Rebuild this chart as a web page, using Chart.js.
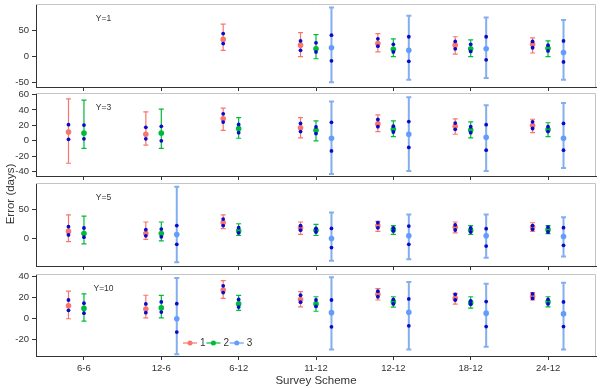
<!DOCTYPE html>
<html><head><meta charset="utf-8">
<script src="https://cdn.jsdelivr.net/npm/chart.js@4/dist/chart.umd.min.js"></script>
<style>
html,body{margin:0;padding:0;background:#fff;}
#wrap{position:relative;width:600px;height:388px;overflow:hidden;font-family:"Liberation Sans",Arial,sans-serif;}
#wrap canvas{position:absolute;left:0;}
#ylab{position:absolute;left:-30px;top:187px;width:80px;height:14px;line-height:14px;text-align:center;transform:rotate(-90deg);transform-origin:40px 7px;font-size:11.5px;font-weight:400;color:#333;white-space:nowrap;}
</style></head><body>
<div id="wrap">
<canvas id="c0" width="600" height="91" style="top:0px"></canvas>
<canvas id="c1" width="600" height="91" style="top:89px"></canvas>
<canvas id="c2" width="600" height="91" style="top:179px"></canvas>
<canvas id="c3" width="600" height="118" style="top:270px"></canvas>
<div id="ylab">Error (days)</div>
</div>
<script>
const categories = ['6-6','12-6','6-12','11-12','12-12','18-12','24-12'];
const seriesLabels = ['1','2','3'];
const panelLabels = ['Y=1','Y=3','Y=5','Y=10'];
const xAxisTitle = 'Survey Scheme';

// tick labels of each panel's y axis
const y1Ticks = [-50, 0, 50];
const y3Ticks = [-40, -20, 0, 20, 40, 60];
const y5Ticks = [0, 50];
const y10Ticks = [-20, 0, 20, 40];

// ---- Y=1 ---- (rows: series 1, 2, 3; columns: categories)
const y1Mean = [
  [null, null, 33, 22, 25, 22, 23.5],
  [null, null, null, 15, 14, 15, 16],
  [null, null, null, 17, 12, 15, 8]];
const y1Low = [
  [null, null, 12, 0, 9, 5, 7],
  [null, null, null, -4, 0, 0, 0],
  [null, null, null, -49, -44, -41, -44]];
const y1High = [
  [null, null, 62, 46, 44, 38, 36],
  [null, null, null, 42, 34, 32, 30],
  [null, null, null, 94, 78, 75, 70]];
const y1DotLo = [
  [null, null, 25, 12, 20, 15, 17],
  [null, null, null, 9, 9, 10, 11],
  [null, null, null, -8, -9, -6, -10]];
const y1DotHi = [
  [null, null, 44, 30, 34, 29, 29],
  [null, null, null, 26.5, 23.5, 23.5, 22],
  [null, null, null, 41, 38, 38, 30]];

// ---- Y=3 ----
const y3Mean = [
  [11.5, 8.6, 28.5, 17, 22, 19, 20],
  [10, 10, 15.8, 13.7, 15, 14, 14.5],
  [null, null, null, 3.4, 8.6, 4.7, 3.4]];
const y3Low = [
  [-29, -5.5, 13.7, 3.8, 12, 8.6, 10.6],
  [-9.7, -9.7, 3.4, 0, 5.6, 3.8, 5.6],
  [null, null, null, -43, -39, -39, -35]];
const y3High = [
  [54.5, 37.5, 42.5, 30, 33.7, 28.5, 28],
  [52.8, 41, 30, 25.8, 25.8, 24.7, 23.5],
  [null, null, null, 51, 56.5, 46, 49]];
const y3DotLo = [
  [2, 2.6, 24.3, 12, 18.4, 15, 16],
  [2.6, 0, 10.6, 9.4, 11.5, 10.6, 12],
  [null, null, null, -13, -8.5, -12, -12]];
const y3DotHi = [
  [21, 17.5, 35, 22.6, 27.7, 23, 24.7],
  [20.4, 18.8, 21.3, 18, 19, 18.3, 18.3],
  [null, null, null, 24, 25, 21, 22.6]];

// ---- Y=5 ----
const y5Mean = [
  [12, 8.3, 27, 18, 21.7, 19, 19.4],
  [8.3, 8.3, 12.8, 14, 15, 14, 15],
  [null, 6.7, null, 0, 4.4, 4.4, 3.3]];
const y5Low = [
  [-5.5, -1.7, 16.7, 7, 12, 9.4, 12],
  [-9.4, -4, 5, 5, 7, 6.7, 8.3],
  [null, -40.5, null, -38, -35.6, -33, -31]];
const y5High = [
  [40, 28, 40, 28, 29, 28, 26.7],
  [38, 28, 25, 24, 22, 22, 22],
  [null, 88, null, 44, 41, 41, 36]];
const y5DotLo = [
  [6, 4.4, 22, 14, 18, 14.4, 15.6],
  [2.2, 2.8, 9.4, 11, 12.8, 11, 11],
  [null, -10, null, -15.6, -10, -13, -11.7]];
const y5DotHi = [
  [20, 15, 33, 21.7, 26.7, 23, 22],
  [17.8, 16, 18.3, 17, 17.8, 17.8, 19.4],
  [null, 22, null, 17, 21, 16.7, 18.3]];

// ---- Y=10 ----
const y10Mean = [
  [12, 9, 27, 18, 23, 19, 21],
  [9.5, 10, 13.8, 13.8, 15.7, 15, 15.7],
  [null, -0.3, null, 5.5, 5.8, 5, 4.3]];
const y10Low = [
  [-0.3, 0.6, 19, 11, 17.5, 13.5, 17.5],
  [-2.5, 0.6, 7.7, 6.8, 10.8, 9.8, 11],
  [null, -34, null, -29.5, -29.5, -27, -29.5]];
const y10High = [
  [26, 22, 36, 25.5, 28.3, 23.7, 24.6],
  [23.4, 21.8, 21.8, 20.6, 20.6, 20.6, 20.6],
  [null, 38.5, null, 39, 34.5, 33, 34]];
const y10DotLo = [
  [7.7, 5.5, 24.6, 15.4, 20.6, 17.5, 19],
  [5, 6, 10.8, 11.4, 13.8, 13.5, 13.8],
  [null, -13, null, -8, -7, -7.7, -7.7]];
const y10DotHi = [
  [17.5, 13.8, 31, 22, 25.8, 22.8, 23.4],
  [14.5, 15.7, 18, 17.5, 18, 16.6, 18],
  [null, 14, null, 17.5, 18.5, 16, 15.7]];

// ---- styling ----
const seriesColors = ['#F8766D', '#00BA38', '#619CFF'];
const barColors = ['#F8766D', '#00BA38', 'rgba(110,160,235,0.85)'];
const barWidths = [1.2, 1.2, 2];
const seriesOffsets = [-0.2, 0, 0.2];
const dotColor = '#0a0acc';
const textColor = '#333';
const axisColor = '#333';
const FONT = '"Liberation Sans", Arial, sans-serif';
Chart.defaults.font.family = FONT;
Chart.defaults.color = textColor;

const panels = [
  {mean: y1Mean, low: y1Low, high: y1High, dlo: y1DotLo, dhi: y1DotHi, ticks: y1Ticks, min: -58, max: 100.6, bottom: false},
  {mean: y3Mean, low: y3Low, high: y3High, dlo: y3DotLo, dhi: y3DotHi, ticks: y3Ticks, min: -45.5, max: 62, bottom: false},
  {mean: y5Mean, low: y5Low, high: y5High, dlo: y5DotLo, dhi: y5DotHi, ticks: y5Ticks, min: -47, max: 94.5, bottom: false},
  {mean: y10Mean, low: y10Low, high: y10High, dlo: y10DotLo, dhi: y10DotHi, ticks: y10Ticks, min: -35.7, max: 42.2, bottom: true}
];

const errorBarPlugin = {
  id: 'errorBars',
  beforeDatasetsDraw(chart) {
    const ctx = chart.ctx, xs = chart.scales.x, ys = chart.scales.y;
    const ca = chart.chartArea;
    // light panel frame (top and right)
    ctx.save();
    ctx.strokeStyle = '#c4c4c4';
    ctx.lineWidth = 1;
    ctx.beginPath();
    ctx.moveTo(ca.left, Math.round(ca.top) + 0.5);
    ctx.lineTo(Math.round(ca.right) - 0.5, Math.round(ca.top) + 0.5);
    ctx.lineTo(Math.round(ca.right) - 0.5, ca.bottom);
    ctx.stroke();
    chart.data.datasets.forEach(ds => {
      if (!ds.errLow) return;
      ctx.strokeStyle = ds.barColor;
      ctx.lineWidth = ds.barWidth;
      ds.errLow.forEach((lo, i) => {
        const hi = ds.errHigh[i];
        if (lo == null || hi == null) return;
        const x = xs.getPixelForValue(i + ds.xOffset);
        const y1 = ys.getPixelForValue(lo), y2 = ys.getPixelForValue(hi);
        ctx.beginPath();
        ctx.moveTo(x, y1); ctx.lineTo(x, y2);
        ctx.moveTo(x - 2.5, y1); ctx.lineTo(x + 2.5, y1);
        ctx.moveTo(x - 2.5, y2); ctx.lineTo(x + 2.5, y2);
        ctx.stroke();
      });
    });
    ctx.restore();
  }
};

const panelLabelPlugin = {
  id: 'panelLabel',
  afterDraw(chart, args, opts) {
    const ctx = chart.ctx, ca = chart.chartArea;
    ctx.save();
    ctx.fillStyle = textColor;
    ctx.font = '8.5px ' + FONT;
    ctx.textAlign = 'center';
    ctx.textBaseline = 'middle';
    ctx.fillText(opts.text, ca.left + 67.5, ca.top + 15);
    if (opts.legend) {
      const y = ca.top + 69;
      let x = ca.left + 147;
      ctx.font = '10px ' + FONT;
      ctx.textAlign = 'left';
      seriesLabels.forEach((lab, s) => {
        ctx.strokeStyle = seriesColors[s];
        ctx.fillStyle = seriesColors[s];
        ctx.lineWidth = 1.2;
        ctx.beginPath(); ctx.moveTo(x, y); ctx.lineTo(x + 14, y); ctx.stroke();
        ctx.beginPath(); ctx.arc(x + 7, y, 2.5, 0, Math.PI * 2); ctx.fill();
        ctx.fillStyle = textColor;
        ctx.fillText(lab, x + 17, y + 0.5);
        x += 23.4;
      });
    }
    ctx.restore();
  }
};

function toPoints(arr, off) {
  const pts = [];
  arr.forEach((v, i) => { if (v != null) pts.push({x: i + off, y: v}); });
  return pts;
}

panels.forEach((p, k) => {
  const datasets = [];
  for (let s = 0; s < 3; s++) {
    datasets.push({
      label: '',
      data: toPoints(p.dlo[s], seriesOffsets[s]).concat(toPoints(p.dhi[s], seriesOffsets[s])),
      backgroundColor: dotColor, borderColor: dotColor,
      pointRadius: 1.9, borderWidth: 0, order: 0
    });
  }
  for (let s = 0; s < 3; s++) {
    datasets.push({
      label: seriesLabels[s],
      data: toPoints(p.mean[s], seriesOffsets[s]),
      backgroundColor: seriesColors[s], borderColor: seriesColors[s],
      pointRadius: 2.8, borderWidth: 0, order: 1,
      errLow: p.low[s], errHigh: p.high[s], xOffset: seriesOffsets[s],
      barColor: barColors[s], barWidth: barWidths[s]
    });
  }
  new Chart(document.getElementById('c' + k), {
    type: 'scatter',
    data: {datasets},
    plugins: [errorBarPlugin, panelLabelPlugin],
    options: {
      responsive: false,
      animation: false,
      events: [],
      layout: {padding: {top: 2, right: 2.5, left: 0, bottom: 0}},
      plugins: {
        legend: {display: false},
        tooltip: {enabled: false},
        panelLabel: {text: panelLabels[k], legend: p.bottom}
      },
      scales: {
        x: {
          type: 'linear', min: -0.62, max: 6.62,
          afterBuildTicks: sc => { sc.ticks = categories.map((c, i) => ({value: i})); },
          afterFit: sc => { sc.height = p.bottom ? 32 : 4; sc.paddingLeft = 0; sc.paddingRight = 0; sc.paddingTop = 0; sc.paddingBottom = 0; },
          ticks: {display: p.bottom, autoSkip: false, maxRotation: 0, padding: 3,
                  font: {size: 9.5}, color: textColor,
                  callback: v => categories[v]},
          grid: {drawOnChartArea: false, drawTicks: true, tickLength: 4, color: axisColor},
          border: {color: axisColor, width: 1},
          title: {display: p.bottom, text: xAxisTitle, font: {size: 11.5}, color: textColor, padding: 0}
        },
        y: {
          min: p.min, max: p.max,
          afterBuildTicks: sc => { sc.ticks = p.ticks.map(v => ({value: v})); },
          afterFit: sc => { sc.width = 36; sc.paddingTop = 0; sc.paddingBottom = 0; sc.paddingLeft = 0; sc.paddingRight = 0; },
          ticks: {autoSkip: false, padding: 3, font: {size: 9.5}, color: textColor},
          grid: {drawOnChartArea: false, drawTicks: true, tickLength: 4, color: axisColor},
          border: {color: axisColor, width: 1}
        }
      }
    }
  });
});
</script>
</body></html>
